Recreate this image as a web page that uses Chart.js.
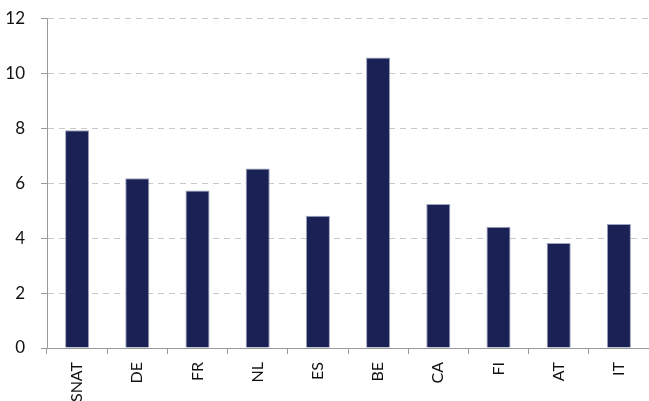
<!DOCTYPE html>
<html>
<head>
<meta charset="utf-8">
<script src="https://cdn.jsdelivr.net/npm/chart.js@4"></script>
<style>
  html, body { margin: 0; padding: 0; background: #fff; overflow: hidden; }
  #wrap { width: 649px; height: 409px; margin-top: -8px; position: relative; }
</style>
</head>
<body>
<div id="wrap"><canvas id="chart"></canvas></div>
<script>
// --- datos ---
const countries = ["SNAT", "DE", "FR", "NL", "ES", "BE", "CA", "FI", "AT", "IT"];
const values = [7.92, 6.18, 5.73, 6.53, 4.81, 10.57, 5.24, 4.41, 3.82, 4.51];
const yTicks = [0, 2, 4, 6, 8, 10, 12];

const axisGray = "#9a9a9a";

new Chart(document.getElementById("chart"), {
  type: "bar",
  data: {
    labels: countries,
    datasets: [{
      data: values,
      backgroundColor: "#1a2155",
      borderColor: "#9ea3bf",
      borderWidth: 1,
      barPercentage: 0.4,
      categoryPercentage: 1
    }]
  },
  options: {
    responsive: true,
    maintainAspectRatio: false,
    animation: false,
    layout: { padding: { top: 9, right: 0, left: 0, bottom: 0 } },
    plugins: { legend: { display: false }, tooltip: { enabled: false } },
    scales: {
      x: {
        grid: { display: true, drawOnChartArea: false, tickLength: 6, tickColor: axisGray, color: axisGray },
        border: { display: true, color: axisGray, width: 1 },
        ticks: {
          color: "#111",
          font: { family: "Lato", size: 16 },
          minRotation: 90, maxRotation: 90,
          align: "end",
          padding: 8,
          autoSkip: false
        },
        afterFit: (s) => { s.height = 53; }
      },
      y: {
        min: 0, max: 12,
        afterBuildTicks: (s) => { s.ticks = yTicks.map(v => ({ value: v })); },
        grid: { color: "#c8c8c8", lineWidth: 1, tickLength: 6, tickColor: axisGray },
        border: { display: true, color: axisGray, width: 1, dash: [6, 5] },
        ticks: {
          color: "#111",
          font: { family: "Lato", size: 17 },
          padding: 16
        },
        afterFit: (s) => { s.width = 47; }
      }
    }
  }
});
</script>
</body>
</html>
